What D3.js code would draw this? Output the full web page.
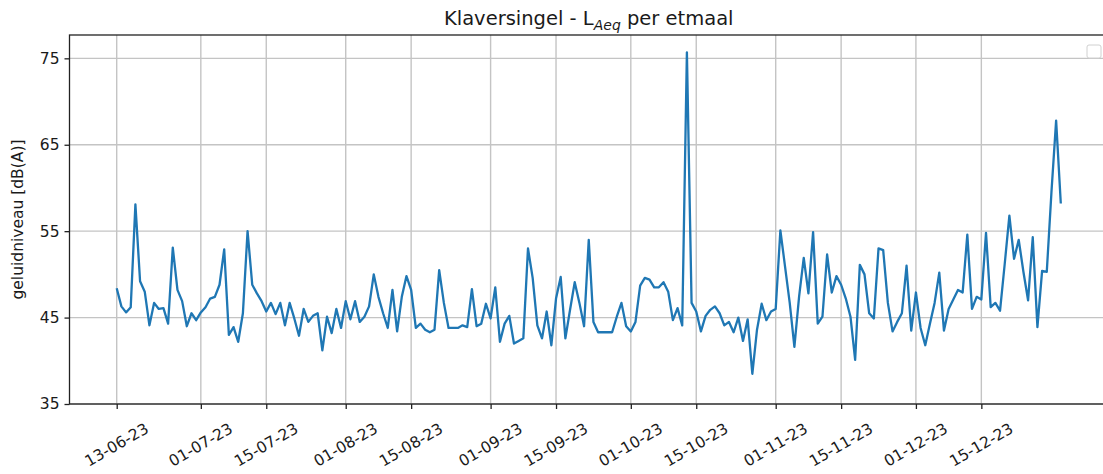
<!DOCTYPE html>
<html>
<head>
<meta charset="utf-8">
<script src="https://cdn.jsdelivr.net/npm/d3@7"></script>
<style>
  body { margin: 0; background: #fff; }
  svg { display: block; font-family: "DejaVu Sans", sans-serif; }
  .tick-label { font-size: 15.5px; fill: #1a1a1a; }
</style>
</head>
<body>
<div id="chart"></div>
<script>
// data: one value per day starting 13-06-2023
const startDate = new Date(Date.UTC(2023, 5, 13));
const levels = [
  48.4, 46.3, 45.6, 46.2, 58.1, 49.2, 48.0, 44.1, 46.7, 46.0,
  46.1, 44.3, 53.1, 48.2, 46.9, 44.0, 45.5, 44.7, 45.6, 46.2,
  47.2, 47.4, 48.8, 52.9, 43.0, 43.9, 42.2, 45.5, 55.0, 48.8,
  47.8, 46.9, 45.7, 46.7, 45.4, 46.7, 44.1, 46.7, 44.9, 42.9,
  46.0, 44.5, 45.2, 45.5, 41.2, 45.1, 43.2, 46.0, 43.8, 46.9,
  44.8, 46.9, 44.5, 45.1, 46.3, 50.0, 47.4, 45.5, 43.8, 48.2,
  43.4, 47.4, 49.8, 48.2, 43.8, 44.3, 43.6, 43.3, 43.6, 50.5,
  46.7, 43.8, 43.8, 43.8, 44.1, 43.9, 48.3, 44.0, 44.3, 46.6,
  44.9, 48.5, 42.2, 44.3, 45.2, 42.0, 42.3, 42.6, 53.0, 49.6,
  44.1, 42.6, 45.7, 41.8, 47.2, 49.7, 42.6, 45.9, 49.1, 46.7,
  44.0, 54.0, 44.5, 43.3, 43.3, 43.3, 43.3, 45.1, 46.7, 44.0,
  43.4, 44.5, 48.7, 49.6, 49.4, 48.5, 48.5, 49.1, 48.0, 44.7,
  46.1, 44.1, 75.7, 46.7, 45.7, 43.4, 45.2, 45.9, 46.3, 45.5,
  44.1, 44.5, 43.3, 45.0, 42.3, 44.8, 38.5, 43.6, 46.6, 44.7,
  45.7, 46.0, 55.1, 50.9, 46.7, 41.6, 47.4, 51.9, 47.8, 54.9,
  44.3, 45.1, 52.3, 47.9, 49.8, 48.8, 47.2, 45.1, 40.1, 51.1,
  50.0, 45.5, 44.9, 53.0, 52.8, 46.7, 43.4, 44.5, 45.5, 51.0,
  43.5, 47.9, 43.8, 41.8, 44.3, 46.7, 50.2, 43.5, 46.0, 47.1,
  48.2, 47.9, 54.6, 46.0, 47.4, 47.1, 54.8, 46.2, 46.7, 45.8,
  51.2, 56.8, 51.8, 54.0, 50.3, 47.0, 54.3, 43.9, 50.4, 50.3,
  59.5, 67.8, 58.2
];
const tickLabels = [
  "13-06-23", "01-07-23", "15-07-23", "01-08-23", "15-08-23", "01-09-23",
  "15-09-23", "01-10-23", "15-10-23", "01-11-23", "15-11-23", "01-12-23", "15-12-23"
];
const yTicks = [35, 45, 55, 65, 75];

const parseTick = d3.utcParse("%d-%m-%y");
const data = levels.map((v, i) => ({ date: d3.utcDay.offset(startDate, i), value: v }));

////////////////////////////  Init  ///////////////////////////////
const width = 1103, height = 474;
const margin = { top: 35, right: -5, bottom: 70, left: 69 };

const svg = d3.select("#chart").append("svg")
  .attr("width", width).attr("height", height);

// x: matplotlib-like 5% padding on both sides of the data range
const first = data[0].date, last = data[data.length - 1].date;
const pad = (last - first) * 0.05;
const xScale = d3.scaleUtc()
  .domain([new Date(+first - pad), new Date(+last + pad)])
  .range([margin.left + 0.5, width - margin.right]);

const yScale = d3.scaleLinear()
  .domain([35, 77.7])
  .range([height - margin.bottom, margin.top]);

const tickDates = tickLabels.map(parseTick);

// grid
const grid = svg.append("g").attr("stroke", "#c4c4c4").attr("stroke-width", 1.4);
grid.selectAll(".gx").data(tickDates).enter().append("line")
  .attr("x1", d => xScale(d)).attr("x2", d => xScale(d))
  .attr("y1", yScale.range()[0]).attr("y2", yScale.range()[1]);
grid.selectAll(".gy").data(yTicks).enter().append("line")
  .attr("x1", xScale.range()[0]).attr("x2", xScale.range()[1])
  .attr("y1", d => yScale(d)).attr("y2", d => yScale(d));

// line
const line = d3.line().x(d => xScale(d.date)).y(d => yScale(d.value));
svg.append("path").datum(data)
  .attr("fill", "none")
  .attr("stroke", "#1f77b4")
  .attr("stroke-width", 2.3)
  .attr("stroke-linejoin", "round")
  .attr("d", line);

// frame
svg.append("rect")
  .attr("x", xScale.range()[0]).attr("y", margin.top)
  .attr("width", xScale.range()[1] - xScale.range()[0])
  .attr("height", yScale.range()[0] - margin.top)
  .attr("fill", "none").attr("stroke", "#222").attr("stroke-width", 1.3);

// axes
const xAxis = d3.axisBottom(xScale).tickValues(tickDates).tickSize(5).tickFormat("");
const xAxisGroup = svg.append("g")
  .attr("transform", `translate(0, ${yScale.range()[0]})`)
  .call(xAxis);
xAxisGroup.select(".domain").remove();
xAxisGroup.selectAll("line").attr("stroke", "#222").attr("stroke-width", 1.3);

svg.selectAll(".tick-label-x").data(tickDates).enter().append("text")
  .attr("class", "tick-label")
  .attr("text-anchor", "middle")
  .attr("dominant-baseline", "central")
  .attr("transform", d => `translate(${xScale(d)}, ${yScale.range()[0] + 41}) rotate(-30)`)
  .text((d, i) => tickLabels[i]);

const yAxis = d3.axisLeft(yScale).tickValues(yTicks).tickSize(5).tickPadding(5);
const yAxisGroup = svg.append("g")
  .attr("transform", `translate(${xScale.range()[0]}, 0)`)
  .call(yAxis);
yAxisGroup.select(".domain").remove();
yAxisGroup.selectAll("line").attr("stroke", "#222").attr("stroke-width", 1.3);
yAxisGroup.selectAll("text").attr("class", "tick-label").style("font-family", "DejaVu Sans")
  .attr("font-size", null);

// y label
svg.append("text")
  .attr("transform", `translate(23, ${(margin.top + yScale.range()[0]) / 2}) rotate(-90)`)
  .attr("text-anchor", "middle")
  .style("font-size", "15.5px")
  .attr("fill", "#1a1a1a")
  .text("geluidniveau [dB(A)]");

// title with subscript
const title = svg.append("text")
  .attr("x", (xScale.range()[0] + xScale.range()[1]) / 2)
  .attr("y", 25)
  .attr("text-anchor", "middle")
  .attr("fill", "#1a1a1a")
  .style("font-size", "19.5px");
title.append("tspan").text("Klaversingel - L");
title.append("tspan").attr("dy", 5).style("font-size", "14px").style("font-style", "italic").text("Aeq");
title.append("tspan").attr("dy", -5).text(" per etmaal");

// empty legend box
svg.append("rect")
  .attr("x", 1087).attr("y", 45).attr("width", 14).attr("height", 13)
  .attr("rx", 2).attr("fill", "#fff").attr("stroke", "#d0d0d0").attr("stroke-width", 1);
</script>
</body>
</html>
